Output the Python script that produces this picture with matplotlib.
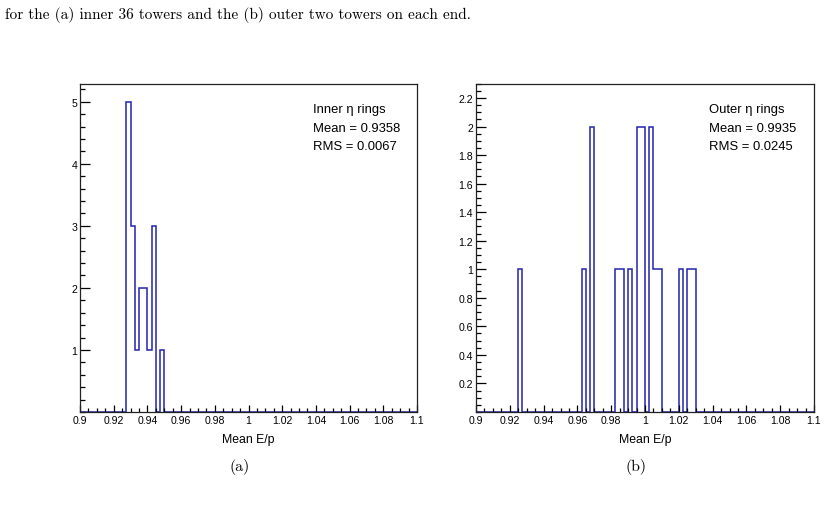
import numpy as np
import matplotlib
matplotlib.use("Agg")
import matplotlib.pyplot as plt
from matplotlib.ticker import MultipleLocator, FixedLocator, FormatStrFormatter

# ---- data ----
x_lo, x_hi, n_bins = 0.9, 1.1, 80

inner_bin_starts = [0.9275, 0.9300, 0.9325, 0.9350, 0.9375, 0.9400, 0.9425, 0.9475]
inner_counts = [5, 3, 1, 2, 2, 1, 3, 1]

outer_bin_starts = [0.9250, 0.9625, 0.9675, 0.9825, 0.9850, 0.9900, 0.9950, 0.9975,
                    1.0025, 1.0050, 1.0075, 1.0200, 1.0250, 1.0275]
outer_counts = [1, 1, 2, 1, 1, 1, 2, 2, 2, 1, 1, 1, 1, 1]

x_ticks = [0.9, 0.92, 0.94, 0.96, 0.98, 1.0, 1.02, 1.04, 1.06, 1.08, 1.1]
inner_yticks = [1, 2, 3, 4, 5]
outer_yticks = [0.2, 0.4, 0.6, 0.8, 1.0, 1.2, 1.4, 1.6, 1.8, 2.0, 2.2]

inner_stats = ["Inner \u03b7 rings", "Mean = 0.9358", "RMS = 0.0067"]
outer_stats = ["Outer \u03b7 rings", "Mean = 0.9935", "RMS = 0.0245"]

caption = "for the (a) inner 36 towers and the (b) outer two towers on each end."
x_label = "Mean E/p"

# ---- build ----
edges = np.linspace(x_lo, x_hi, n_bins + 1)
width = (x_hi - x_lo) / n_bins


def fill(starts, counts):
    v = np.zeros(n_bins)
    for s, c in zip(starts, counts):
        v[int(round((s - x_lo) / width))] = c
    return v


SANS = ["Liberation Sans", "DejaVu Sans"]
W, H = 826, 506
fig = plt.figure(figsize=(W / 100, H / 100), dpi=100)

HIST_COLOR = "#2323b0"


def make_panel(left_px, right_px, values, yticks, ymax, yminor, stats, sub):
    top_px, bot_px = 84.7, 413.0
    ax = fig.add_axes([left_px / W, 1 - bot_px / H, (right_px - left_px) / W, (bot_px - top_px) / H])
    ax.stairs(values, edges, color=HIST_COLOR, lw=1.1, baseline=0)
    ax.set_xlim(x_lo, x_hi)
    ax.set_ylim(0, ymax)
    ax.xaxis.set_major_locator(FixedLocator(x_ticks))
    ax.xaxis.set_minor_locator(MultipleLocator(0.005))
    ax.xaxis.set_major_formatter(FormatStrFormatter("%g"))
    ax.yaxis.set_major_locator(FixedLocator(yticks))
    ax.yaxis.set_minor_locator(MultipleLocator(yminor))
    ax.yaxis.set_major_formatter(FormatStrFormatter("%g"))
    ax.tick_params(axis="both", which="both", direction="in", top=False, right=False,
                   width=0.9, color="black")
    ax.tick_params(axis="x", which="major", length=5.0, pad=2.5, labelsize=7.6)
    ax.tick_params(axis="x", which="minor", length=2.6)
    ax.tick_params(axis="y", which="major", length=7.2, pad=2.0, labelsize=7.6)
    ax.tick_params(axis="y", which="minor", length=3.6)
    for lab in ax.get_xticklabels() + ax.get_yticklabels():
        lab.set_family(SANS)
    for sp in ax.spines.values():
        sp.set_linewidth(0.9)
        sp.set_color("#222222")
    ys = [0.923, 0.865, 0.810]
    for t, y in zip(stats, ys):
        ax.text(0.690, y, t, transform=ax.transAxes, ha="left", va="center",
                fontsize=9.4, family=SANS)
    ax.text(0.5, -0.082, x_label, transform=ax.transAxes, ha="center", va="center",
            fontsize=8.8, family=SANS)
    cx = (left_px + right_px) / 2 - 9
    fig.text(cx / W, 1 - 467 / H, sub, ha="center", va="center", fontsize=11.5,
             family=["cmr10", "DejaVu Serif"])
    return ax


make_panel(80, 417, fill(inner_bin_starts, inner_counts), inner_yticks, 5.29, 0.2,
           inner_stats, "(a)")
make_panel(476, 814, fill(outer_bin_starts, outer_counts), outer_yticks, 2.30, 0.05,
           outer_stats, "(b)")

fig.text(5 / W, 1 - 15 / H, caption, ha="left", va="center", fontsize=11.0,
         family=["cmr10", "DejaVu Serif"])

fig.savefig("out.png", dpi=100)
